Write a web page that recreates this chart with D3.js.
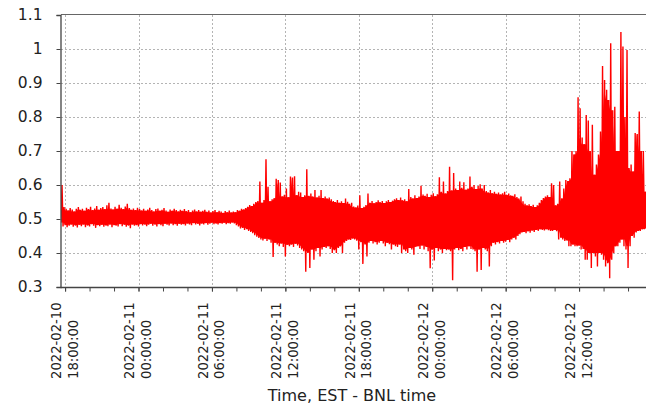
<!DOCTYPE html>
<html>
<head>
<meta charset="utf-8">
<script src="https://cdn.jsdelivr.net/npm/d3@7"></script>
<style>
  html, body { margin: 0; padding: 0; background: #fff; }
  svg { display: block; }
  text { font-family: "DejaVu Sans", sans-serif; fill: #222; }
</style>
</head>
<body>
<svg id="chart" width="646" height="411"></svg>
<script>
// Sampling: one envelope pair (low / high) every 10 minutes, starting 2022-02-10 17:40 EST
const startTime = Date.UTC(2022, 1, 10, 17, 40);
const stepMinutes = 10;

// Upper envelope of the signal for each 10-minute sample
const hiValues = [
  0.60, 0.535, 0.53, 0.525, 0.532, 0.528, 0.522, 0.53, 0.535, 0.527,
  0.53, 0.524, 0.533, 0.529, 0.536, 0.526, 0.531, 0.538, 0.527, 0.532,
  0.535, 0.529, 0.54, 0.548, 0.531, 0.528, 0.536, 0.53, 0.542, 0.533,
  0.529, 0.537, 0.545, 0.532, 0.527, 0.531, 0.526, 0.533, 0.529, 0.525,
  0.53, 0.524, 0.528, 0.533, 0.526, 0.522, 0.529, 0.531, 0.524, 0.527,
  0.532, 0.525, 0.521, 0.528, 0.524, 0.53, 0.526, 0.522, 0.527, 0.524,
  0.529, 0.523, 0.526, 0.52, 0.525, 0.528, 0.522, 0.526, 0.521, 0.524,
  0.527, 0.521, 0.525, 0.519, 0.523, 0.526, 0.52, 0.524, 0.522, 0.518,
  0.523, 0.52, 0.525, 0.519, 0.522, 0.52, 0.526, 0.524, 0.53, 0.528,
  0.532, 0.536, 0.541, 0.538, 0.545, 0.55, 0.553, 0.61, 0.548, 0.556,
  0.676, 0.595, 0.552, 0.558, 0.562, 0.618, 0.615, 0.607, 0.566, 0.571,
  0.59, 0.564, 0.625, 0.622, 0.626, 0.57, 0.58, 0.578, 0.565, 0.57,
  0.646, 0.568, 0.575, 0.566, 0.585, 0.563, 0.568, 0.585, 0.562, 0.566,
  0.56, 0.563, 0.558, 0.553, 0.55, 0.556, 0.548, 0.552, 0.547, 0.56,
  0.551, 0.545, 0.548, 0.537, 0.534, 0.54, 0.57, 0.532, 0.536, 0.541,
  0.575, 0.548, 0.553, 0.546, 0.55, 0.555, 0.549, 0.553, 0.547, 0.552,
  0.556, 0.55, 0.554, 0.558, 0.561, 0.556, 0.563, 0.555, 0.558, 0.552,
  0.588, 0.565, 0.56, 0.57, 0.562, 0.566, 0.598, 0.572, 0.568, 0.574,
  0.565, 0.571, 0.576, 0.567, 0.573, 0.623, 0.58, 0.61, 0.575, 0.582,
  0.654, 0.584, 0.635, 0.59, 0.585, 0.61, 0.592, 0.608, 0.586, 0.59,
  0.625, 0.595, 0.6, 0.588, 0.597, 0.602, 0.59, 0.6, 0.582, 0.578,
  0.585, 0.576, 0.58, 0.574, 0.578, 0.572, 0.576, 0.58, 0.571, 0.575,
  0.57, 0.568, 0.573, 0.565, 0.56, 0.566, 0.552, 0.545, 0.54, 0.543,
  0.538, 0.542, 0.535, 0.54, 0.548, 0.556, 0.562, 0.566, 0.57, 0.565,
  0.605, 0.60, 0.54, 0.545, 0.61, 0.56, 0.59, 0.615, 0.612, 0.62,
  0.70, 0.69, 0.70, 0.858, 0.826, 0.74, 0.72, 0.806, 0.79, 0.70,
  0.777, 0.63, 0.66, 0.69, 0.757, 0.95, 0.909, 0.88, 0.85, 1.017,
  0.82, 0.83, 0.70, 0.70, 1.05, 1.007, 0.80, 0.997, 0.65, 0.66,
  0.64, 0.753, 0.75, 0.816, 0.70, 0.70, 0.58, 0.60
];

// Lower envelope of the signal for each 10-minute sample
const loValues = [
  0.49, 0.478, 0.482, 0.476, 0.48, 0.484, 0.477, 0.481, 0.475, 0.483,
  0.479, 0.484, 0.476, 0.481, 0.478, 0.485, 0.48, 0.474, 0.482, 0.479,
  0.483, 0.477, 0.481, 0.479, 0.484, 0.476, 0.482, 0.48, 0.478, 0.485,
  0.479, 0.483, 0.477, 0.481, 0.473, 0.484, 0.48, 0.482, 0.478, 0.485,
  0.481, 0.484, 0.479, 0.483, 0.486, 0.48, 0.484, 0.478, 0.485, 0.482,
  0.479, 0.486, 0.483, 0.481, 0.487, 0.482, 0.485, 0.48, 0.486, 0.483,
  0.485, 0.481, 0.487, 0.484, 0.482, 0.488, 0.484, 0.486, 0.481, 0.487,
  0.484, 0.488, 0.483, 0.486, 0.489, 0.485, 0.487, 0.484, 0.488, 0.486,
  0.489, 0.485, 0.488, 0.486, 0.49, 0.487, 0.482, 0.478, 0.472, 0.474,
  0.468, 0.47, 0.465, 0.462, 0.458, 0.452, 0.448, 0.444, 0.44, 0.437,
  0.442, 0.435, 0.44, 0.43, 0.388, 0.43, 0.425, 0.42, 0.428, 0.418,
  0.39, 0.424, 0.42, 0.425, 0.418, 0.427, 0.422, 0.415, 0.41, 0.405,
  0.345, 0.40, 0.356, 0.41, 0.38, 0.405, 0.415, 0.39, 0.41, 0.418,
  0.415, 0.42, 0.412, 0.40, 0.408, 0.40, 0.415, 0.42, 0.40, 0.43,
  0.435, 0.44, 0.438, 0.443, 0.44, 0.436, 0.41, 0.432, 0.368, 0.425,
  0.39, 0.43, 0.435, 0.428, 0.432, 0.425, 0.43, 0.435, 0.428, 0.42,
  0.43, 0.426, 0.41, 0.425, 0.42, 0.418, 0.425, 0.40, 0.41, 0.405,
  0.40, 0.415, 0.41, 0.395, 0.418, 0.42, 0.412, 0.422, 0.41, 0.418,
  0.405, 0.355, 0.41, 0.378, 0.415, 0.405, 0.41, 0.40, 0.412, 0.408,
  0.41, 0.405, 0.32, 0.41, 0.415, 0.408, 0.412, 0.405, 0.418, 0.41,
  0.42, 0.412, 0.41, 0.405, 0.345, 0.41, 0.35, 0.415, 0.41, 0.405,
  0.36, 0.42, 0.43, 0.425, 0.432, 0.428, 0.435, 0.43, 0.433, 0.438,
  0.432, 0.44, 0.445, 0.44, 0.45, 0.455, 0.46, 0.462, 0.458, 0.464,
  0.46, 0.466, 0.462, 0.468, 0.465, 0.47, 0.468, 0.466, 0.47, 0.467,
  0.465, 0.465, 0.468, 0.464, 0.44, 0.445, 0.44, 0.435, 0.437, 0.42,
  0.42, 0.425, 0.42, 0.42, 0.422, 0.41, 0.412, 0.38, 0.38, 0.40,
  0.356, 0.40, 0.39, 0.36, 0.40, 0.395, 0.38, 0.36, 0.37, 0.326,
  0.38, 0.40, 0.42, 0.42, 0.43, 0.44, 0.42, 0.41, 0.356, 0.42,
  0.45, 0.445, 0.46, 0.465, 0.465, 0.47, 0.47, 0.472
];

// Axis ticks
const yTickValues = [0.3, 0.4, 0.5, 0.6, 0.7, 0.8, 0.9, 1.0, 1.1];
const yTickLabels = ["0.3", "0.4", "0.5", "0.6", "0.7", "0.8", "0.9", "1", "1.1"];
const xTickTimes = [
  Date.UTC(2022, 1, 10, 18), Date.UTC(2022, 1, 11, 0), Date.UTC(2022, 1, 11, 6),
  Date.UTC(2022, 1, 11, 12), Date.UTC(2022, 1, 11, 18), Date.UTC(2022, 1, 12, 0),
  Date.UTC(2022, 1, 12, 6), Date.UTC(2022, 1, 12, 12)
].map(t => new Date(t));
const xAxisTitle = "Time, EST - BNL time";

// Layout
const svg = d3.select("#chart");
const plot = { left: 61, top: 15, bottom: 287, right: 646 };
const stepMs = stepMinutes * 60000;
const endTime = startTime + (hiValues.length - 1) * stepMs;

const x = d3.scaleUtc()
  .domain([new Date(startTime), new Date(endTime)])
  .range([plot.left, plot.left + 585.4]);
const y = d3.scaleLinear()
  .domain([0.3, 1.1])
  .range([plot.bottom, plot.top]);

// Grid
const grid = svg.append("g").attr("stroke", "#b4b4b4").attr("stroke-width", 1)
  .attr("stroke-dasharray", "2,2");
grid.selectAll("line.h").data(yTickValues.slice(1, -1)).join("line")
  .attr("class", "h")
  .attr("x1", plot.left).attr("x2", plot.right)
  .attr("y1", d => Math.round(y(d)) + 0.5).attr("y2", d => Math.round(y(d)) + 0.5);
grid.selectAll("line.v").data(xTickTimes).join("line")
  .attr("class", "v")
  .attr("x1", d => Math.round(x(d)) + 0.5).attr("x2", d => Math.round(x(d)) + 0.5)
  .attr("y1", plot.top).attr("y2", plot.bottom);

svg.append("clipPath").attr("id", "plotClip")
  .append("rect")
  .attr("x", plot.left).attr("y", plot.top)
  .attr("width", plot.right - plot.left).attr("height", plot.bottom - plot.top);

const signal = svg.append("g").attr("clip-path", "url(#plotClip)");

// Dense core of the trace: where neighbouring samples overlap, the line is solid
const samples = hiValues.map((hi, i) => ({
  t: new Date(startTime + i * stepMs + stepMs / 4),
  top: d3.min(hiValues.slice(Math.max(0, i - 1), i + 2)),
  bottom: d3.max(loValues.slice(Math.max(0, i - 1), i + 2))
}));
signal.append("path")
  .datum(samples)
  .attr("fill", "#ff0000")
  .attr("d", d3.area()
    .x(d => x(d.t))
    .y0(d => y(d.bottom))
    .y1(d => y(d.top)));

// Signal: alternating low/high points drawn as one dense line
const points = [];
hiValues.forEach((hi, i) => {
  const t = startTime + i * stepMs;
  points.push([new Date(t), loValues[i]]);
  points.push([new Date(t + stepMs / 2), hi]);
});
signal.append("path")
  .datum(points)
  .attr("fill", "none")
  .attr("stroke", "#ff0000")
  .attr("stroke-width", 1.4)
  .attr("stroke-linejoin", "miter")
  .attr("d", d3.line().x(d => x(d[0])).y(d => y(d[1])));

// Top frame line
svg.append("line")
  .attr("x1", plot.left).attr("x2", plot.right)
  .attr("y1", plot.top - 0.5).attr("y2", plot.top - 0.5)
  .attr("stroke", "#666").attr("stroke-width", 1.2);

// Y axis
const yAxis = d3.axisLeft(y)
  .tickValues(yTickValues)
  .tickFormat((d, i) => yTickLabels[i])
  .tickSize(4)
  .tickPadding(14);
const yg = svg.append("g").attr("transform", `translate(${plot.left - 0.5},0)`).call(yAxis);
yg.select(".domain").attr("stroke", "#444").attr("stroke-width", 1.3);
yg.selectAll(".tick line").attr("stroke", "#444");
yg.selectAll(".tick text")
  .attr("font-size", "15.5px")
  .attr("font-family", "DejaVu Sans, sans-serif")
  .attr("fill", "#222");

// X axis: major ticks every 6 h, minor every 2 h
const xMinor = d3.axisBottom(x)
  .ticks(d3.utcHour.every(2))
  .tickSize(4)
  .tickFormat("");
const xmg = svg.append("g").attr("transform", `translate(0,${plot.bottom + 0.5})`).call(xMinor);
xmg.select(".domain").remove();
xmg.selectAll(".tick line").attr("stroke", "#444");

const xAxis = d3.axisBottom(x)
  .tickValues(xTickTimes)
  .tickSize(4)
  .tickFormat("");
const xg = svg.append("g").attr("transform", `translate(0,${plot.bottom + 0.5})`).call(xAxis);
xg.select(".domain").attr("stroke", "#444").attr("stroke-width", 1.3)
  .attr("d", `M${plot.left - 0.5},0H${plot.right}`);
xg.selectAll(".tick line").attr("stroke", "#444");

// Rotated two-line date/time labels
const fmtDate = d3.utcFormat("%Y-%m-%d");
const fmtTime = d3.utcFormat("%H:%M:%S");
const labels = svg.append("g").selectAll("g").data(xTickTimes).join("g")
  .attr("transform", d => `translate(${x(d)},379) rotate(-90)`);
labels.append("text")
  .attr("y", -4.3)
  .attr("font-size", "13.2px")
  .attr("text-anchor", "start")
  .text(d => fmtDate(d));
labels.append("text")
  .attr("y", 12.5)
  .attr("font-size", "13.2px")
  .attr("text-anchor", "start")
  .text(d => fmtTime(d));

// Axis title
svg.append("text")
  .attr("x", 352).attr("y", 400.7)
  .attr("text-anchor", "middle")
  .attr("font-size", "16px")
  .text(xAxisTitle);
</script>
</body>
</html>
